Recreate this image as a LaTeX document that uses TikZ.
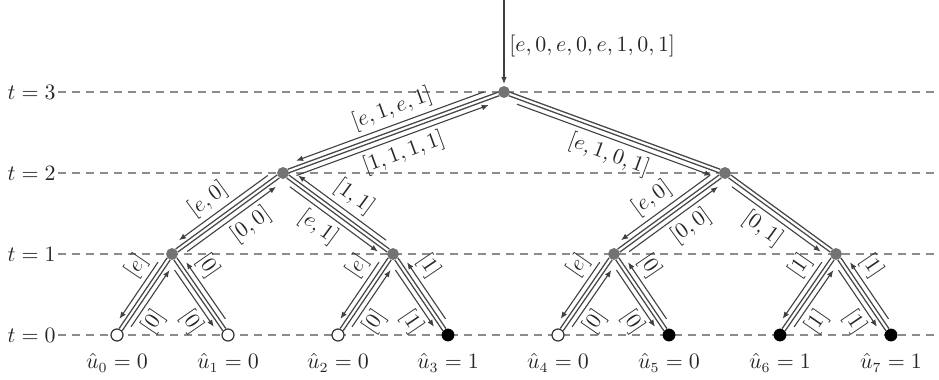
\documentclass[tikz,border=0pt]{standalone}
\usetikzlibrary{calc,arrows.meta}
\newcommand{\msgarrow}[6]{%
  \draw[msgline] ($(#1)!#3!(#2)!3.5pt!-90:(#2)$) -- ($(#1)!#4!(#2)!3.5pt!-90:(#2)$) node[lbl,#5]{$#6$};}
\begin{document}
\begin{tikzpicture}[x=0.5pt,y=-0.5pt,
  font=\fontsize{10.5}{12.6}\selectfont,
  grid/.style={draw=black!45, line width=0.6pt, dash pattern=on 4pt off 3pt},
  edge/.style={draw=black!72, line width=0.7pt, double=white, double distance=1.1pt},
  msgline/.style={draw=black!75, line width=0.55pt, -{Latex[length=3.5pt,width=2.8pt]}},
  lbl/.style={sloped, inner sep=2.2pt, text=black!85},
  innernode/.style={circle, fill=black!55, draw=black!55, minimum size=5.5pt, inner sep=0pt},
  zero/.style={circle, fill=white, draw=black!80, line width=0.6pt, minimum size=6pt, inner sep=0pt},
  one/.style={circle, fill=black, draw=black, minimum size=6pt, inner sep=0pt},
  tlabel/.style={anchor=east, text=black!85, inner sep=1pt},
  ulabel/.style={text=black!85, inner sep=1pt}
]
\useasboundingbox (0,0) rectangle (939,380);
\foreach \y/\t in {92/3,173/2,254/1,335/0} {
  \node[tlabel] (t\t) at (58,\y) {$t=\t$};
  \draw[grid] (t\t.east) -- (939,\y);
}
% nodes
\node[innernode] (R) at (504,92) {};
\node[innernode] (A) at (283,173) {};
\node[innernode] (B) at (725,173) {};
\node[innernode] (A1) at (172,254) {};
\node[innernode] (A2) at (393,254) {};
\node[innernode] (B1) at (614,254) {};
\node[innernode] (B2) at (836,254) {};
\node[zero] (l0) at (117,335) {};
\node[zero] (l1) at (228,335) {};
\node[zero] (l2) at (338,335) {};
\node[one]  (l3) at (448,335) {};
\node[zero] (l4) at (558,335) {};
\node[one]  (l5) at (669,335) {};
\node[one]  (l6) at (780,335) {};
\node[one]  (l7) at (891,335) {};
% edges
\foreach \p/\c in {R/A,R/B,A/A1,A/A2,B/B1,B/B2,A1/l0,A1/l1,A2/l2,A2/l3,B1/l4,B1/l5,B2/l6,B2/l7}
  \draw[edge] (\p) -- (\c);
% incoming message
\coordinate (top) at (504,0);
\draw[msgline, line width=0.7pt, shorten >=1pt] (top) -- (R);
\node[anchor=west, text=black!85, inner sep=1pt] (inmsg) at (507,46) {$[e,0,e,0,e,1,0,1]$};
% messages on upper edges
\msgarrow{R}{A}{0.08}{0.93}{above,pos=0.46}{[e,1,e,1]}
\msgarrow{A}{R}{0.05}{0.92}{below,pos=0.53}{[1,1,1,1]}
\msgarrow{R}{B}{0.07}{0.95}{below,pos=0.5}{[e,1,0,1]}
\msgarrow{A}{A1}{0.1}{0.9}{above,pos=0.57}{[e,0]}
\msgarrow{A1}{A}{0.1}{0.9}{below,pos=0.61}{[0,0]}
\msgarrow{A}{A2}{0.1}{0.9}{below,pos=0.43}{[e,1]}
\msgarrow{A2}{A}{0.1}{0.9}{above,pos=0.47}{[1,1]}
\msgarrow{B}{B1}{0.1}{0.9}{above,pos=0.55}{[e,0]}
\msgarrow{B1}{B}{0.1}{0.9}{below,pos=0.59}{[0,0]}
\msgarrow{B}{B2}{0.1}{0.9}{below,pos=0.45}{[0,1]}
% messages on leaf edges
\msgarrow{A1}{l0}{0.15}{0.85}{above,pos=0.22}{[e]}
\msgarrow{l0}{A1}{0.15}{0.85}{below,pos=0.24}{[0]}
\msgarrow{A1}{l1}{0.15}{0.85}{below,pos=0.76}{[0]}
\msgarrow{l1}{A1}{0.15}{0.85}{above,pos=0.78}{[0]}
\msgarrow{A2}{l2}{0.15}{0.85}{above,pos=0.22}{[e]}
\msgarrow{l2}{A2}{0.15}{0.85}{below,pos=0.24}{[0]}
\msgarrow{A2}{l3}{0.15}{0.85}{below,pos=0.76}{[1]}
\msgarrow{l3}{A2}{0.15}{0.85}{above,pos=0.78}{[1]}
\msgarrow{B1}{l4}{0.15}{0.85}{above,pos=0.22}{[e]}
\msgarrow{l4}{B1}{0.15}{0.85}{below,pos=0.24}{[0]}
\msgarrow{B1}{l5}{0.15}{0.85}{below,pos=0.76}{[0]}
\msgarrow{l5}{B1}{0.15}{0.85}{above,pos=0.78}{[0]}
\msgarrow{B2}{l6}{0.15}{0.85}{above,pos=0.22}{[1]}
\msgarrow{l6}{B2}{0.15}{0.85}{below,pos=0.24}{[1]}
\msgarrow{B2}{l7}{0.15}{0.85}{below,pos=0.76}{[1]}
\msgarrow{l7}{B2}{0.15}{0.85}{above,pos=0.78}{[1]}
% leaf labels
\node[ulabel] (u0) at (117,363) {$\hat{u}_0=0$};
\node[ulabel] (u1) at (228,363) {$\hat{u}_1=0$};
\node[ulabel] (u2) at (338,363) {$\hat{u}_2=0$};
\node[ulabel] (u3) at (448,363) {$\hat{u}_3=1$};
\node[ulabel] (u4) at (558,363) {$\hat{u}_4=0$};
\node[ulabel] (u5) at (669,363) {$\hat{u}_5=0$};
\node[ulabel] (u6) at (780,363) {$\hat{u}_6=1$};
\node[ulabel] (u7) at (891,363) {$\hat{u}_7=1$};
\end{tikzpicture}
\end{document}
